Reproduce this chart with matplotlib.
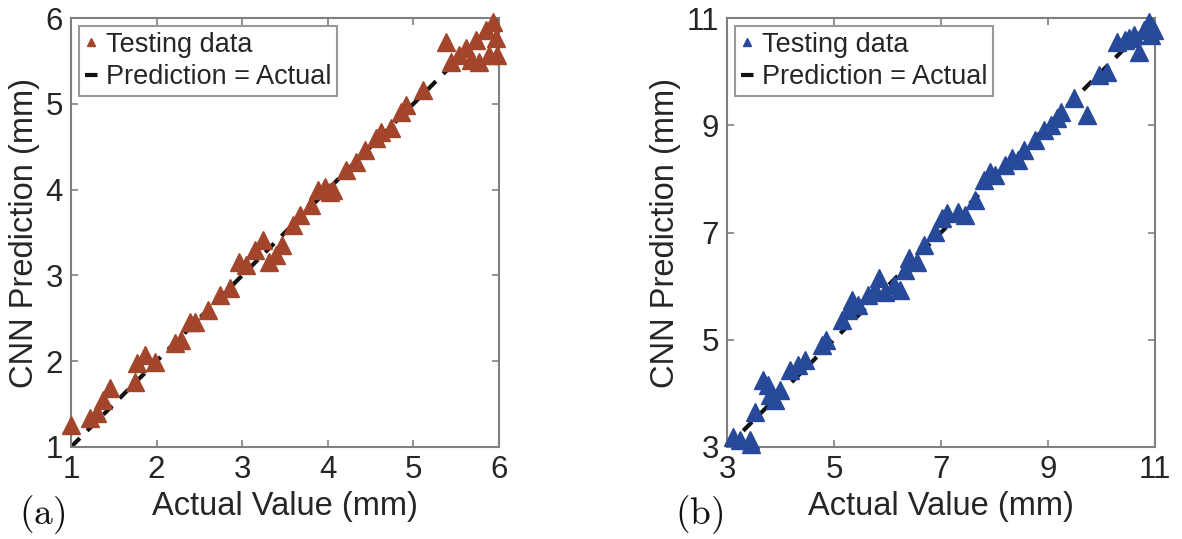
import numpy as np
import matplotlib.pyplot as plt

plt.rcParams['font.family'] = ['Liberation Sans', 'DejaVu Sans']
plt.rcParams['mathtext.fontset'] = 'cm'

# (a) testing data, actual vs CNN prediction (mm)
a_actual = [1.00, 1.22, 1.30, 1.37, 1.46, 1.75, 1.77, 1.87, 1.98, 2.22, 2.28, 2.39, 2.45,
            2.60, 2.74, 2.86, 2.96, 3.04, 3.15, 3.24, 3.31, 3.39, 3.47, 3.59, 3.68, 3.80,
            3.89, 3.97, 4.03, 4.06, 4.21, 4.33, 4.44, 4.56, 4.62, 4.74, 4.85, 4.91, 5.11,
            5.38, 5.44, 5.53, 5.61, 5.67, 5.73, 5.77, 5.85, 5.88, 5.93, 5.96, 5.98]
a_pred = [1.26, 1.34, 1.40, 1.55, 1.69, 1.76, 1.98, 2.07, 1.99, 2.21, 2.25, 2.46, 2.46,
          2.60, 2.77, 2.85, 3.16, 3.12, 3.30, 3.41, 3.16, 3.24, 3.35, 3.59, 3.70, 3.82,
          3.99, 4.03, 3.97, 4.00, 4.23, 4.32, 4.46, 4.60, 4.67, 4.72, 4.90, 4.99, 5.16,
          5.72, 5.49, 5.57, 5.65, 5.51, 5.74, 5.49, 5.86, 5.57, 5.95, 5.77, 5.57]

# (b)
b_actual = [3.11, 3.24, 3.43, 3.45, 3.52, 3.67, 3.76, 3.80, 3.90, 3.99, 4.18, 4.32, 4.45,
            4.77, 4.85, 5.15, 5.26, 5.33, 5.44, 5.63, 5.76, 5.85, 5.95, 6.13, 6.23, 6.32,
            6.41, 6.56, 6.69, 6.88, 7.01, 7.12, 7.31, 7.44, 7.63, 7.81, 7.91, 8.00, 8.19,
            8.32, 8.43, 8.56, 8.75, 8.93, 9.06, 9.17, 9.25, 9.49, 9.73, 9.96, 10.11, 10.29,
            10.43, 10.52, 10.61, 10.71, 10.80, 10.89, 10.93, 10.99]
b_pred = [3.19, 3.13, 3.13, 3.05, 3.65, 4.25, 4.16, 3.97, 3.88, 4.06, 4.44, 4.53, 4.62,
          4.90, 5.00, 5.37, 5.56, 5.74, 5.65, 5.84, 5.93, 6.15, 5.89, 6.02, 5.93, 6.30,
          6.53, 6.45, 6.77, 7.01, 7.27, 7.37, 7.38, 7.33, 7.61, 7.98, 8.13, 8.07, 8.26,
          8.39, 8.35, 8.54, 8.73, 8.91, 9.01, 9.14, 9.25, 9.51, 9.19, 9.94, 10.00, 10.56,
          10.59, 10.63, 10.69, 10.37, 10.78, 10.93, 10.69, 10.78]

panels = [
    dict(x=a_actual, y=a_pred, lim=(1, 6), ticks=[1, 2, 3, 4, 5, 6], color='#a3452a',
         tag='(a)', left=71),
    dict(x=b_actual, y=b_pred, lim=(3, 11), ticks=[3, 5, 7, 9, 11], color='#27499a',
         tag='(b)', left=727),
]

W, H = 1182, 539
fig = plt.figure(figsize=(W / 100, H / 100), dpi=100)
text_c = '#262626'
spine_c = '#808080'

for p in panels:
    ax = fig.add_axes([p['left'] / W, 92 / H, 428 / W, 429 / H])
    lo, hi = p['lim']
    ax.plot([lo, hi], [lo, hi], color='#111111', lw=3, ls=(0, (3, 2.5)), zorder=2,
            label='Prediction = Actual')
    ax.plot(p['x'], p['y'], ls='none', marker='^', ms=12.5, color=p['color'],
            mec=p['color'], zorder=3, label='Testing data', clip_on=False)
    ax.set_xlim(lo, hi)
    ax.set_ylim(lo, hi)
    ax.set_xticks(p['ticks'])
    ax.set_yticks(p['ticks'])
    ax.tick_params(direction='in', top=True, right=True, length=5, width=1.2,
                   color=spine_c, labelsize=22.5, labelcolor=text_c, pad=6)
    for s in ax.spines.values():
        s.set_color(spine_c)
        s.set_linewidth(1.5)
    ax.set_xlabel('Actual Value (mm)', fontsize=23.5, color=text_c, labelpad=4)
    ax.set_ylabel('CNN Prediction (mm)', fontsize=23.5, color=text_c, labelpad=4)
    h, l = ax.get_legend_handles_labels()
    leg = ax.legend(h[::-1], l[::-1], loc='upper left', fontsize=19.5, frameon=True,
                    fancybox=False, edgecolor=spine_c, borderpad=0.2, handlelength=0.5,
                    handletextpad=0.3, labelspacing=0.25, borderaxespad=0.3,
                    markerscale=0.5)
    leg.get_frame().set_linewidth(1.5)
    for t in leg.get_texts():
        t.set_color(text_c)
    fig.text((p['left'] - 52) / W, 24 / H, r'$\mathrm{' + p['tag'] + '}$', fontsize=27,
             color='#111111', ha='left', va='center')

fig.savefig('out.png', dpi=100)
